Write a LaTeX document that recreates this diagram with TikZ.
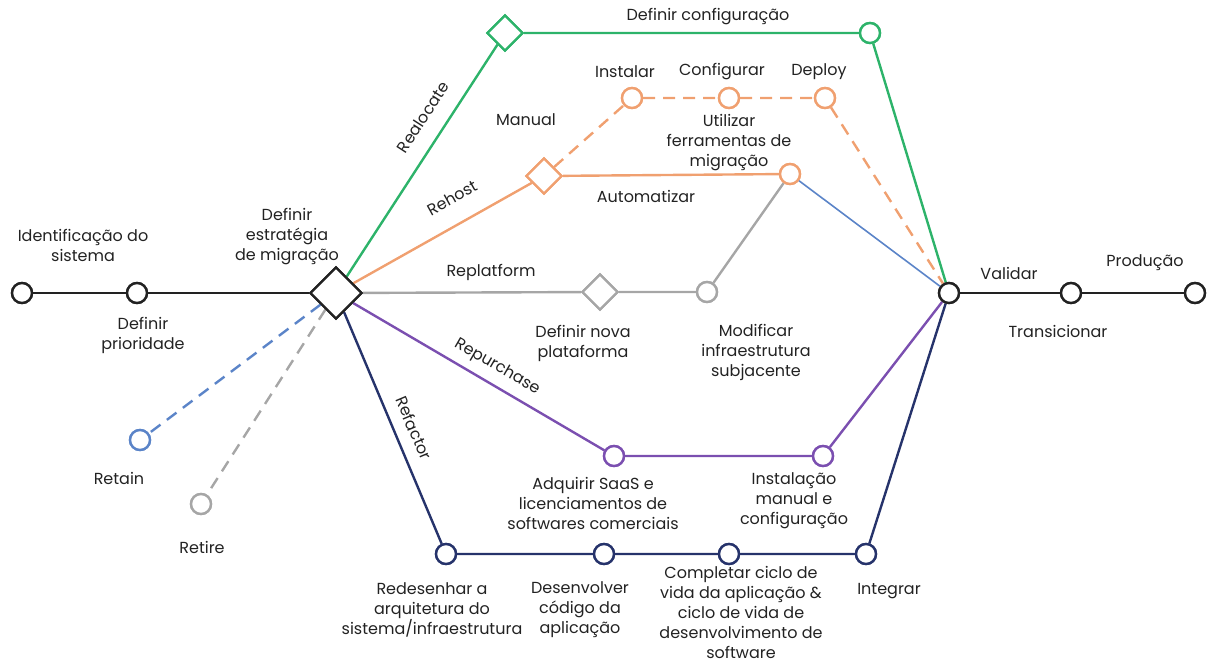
\documentclass[tikz,border=0pt]{standalone}
\usepackage{fontspec}
\setmainfont{Poppins}
\usetikzlibrary{shapes.geometric}

\definecolor{mgreen}{HTML}{2DB36A}
\definecolor{morange}{HTML}{F0A070}
\definecolor{mgray}{HTML}{A6A6A6}
\definecolor{mpurple}{HTML}{7B4FB0}
\definecolor{mnavy}{HTML}{26336B}
\definecolor{mblue}{HTML}{5B84C8}
\definecolor{mblack}{HTML}{222222}

\tikzset{
  stop/.style={circle, draw=#1, fill=white, line width=1.8pt, minimum size=15pt, inner sep=0pt},
  stop/.default=mblack,
  fork/.style={diamond, draw=#1, fill=white, line width=1.8pt, minimum size=27pt, inner sep=0pt},
  fork/.default=mblack,
  track/.style={line width=1.8pt, draw=#1},
  lbl/.style={font=\fontsize{12}{15}\selectfont, align=center, text=mblack, inner sep=1pt}
}

\begin{document}
\begin{tikzpicture}[x=0.75pt,y=-0.75pt]
    \useasboundingbox (0,0) rectangle (1209,663);

    % main line
    \node[stop] (ident) at (22,293) {};
    \node[stop] (prio) at (137,293) {};
    \node[fork, minimum size=39pt] (strat) at (336,293) {};
    \node[stop] (valid) at (949,293) {};
    \node[stop] (trans) at (1071,293) {};
    \node[stop] (prod) at (1195,293) {};

    % realocate
    \node[fork=mgreen] (relocd) at (505,33) {};
    \node[stop=mgreen] (relocc) at (870,33) {};

    % rehost
    \node[fork=morange] (rehostd) at (544,176) {};
    \node[stop=morange] (inst) at (632,98) {};
    \node[stop=morange] (conf) at (729,98) {};
    \node[stop=morange] (depl) at (825,98) {};
    \node[stop=morange] (tool) at (790,174) {};

    % replatform
    \node[fork=mgray] (platd) at (600,292) {};
    \node[stop=mgray] (infra) at (707,292) {};

    % repurchase
    \node[stop=mpurple] (saas) at (614,456) {};
    \node[stop=mpurple] (instman) at (823,456) {};

    % refactor
    \node[stop=mnavy] (redes) at (446,554) {};
    \node[stop=mnavy] (dev) at (604,554) {};
    \node[stop=mnavy] (ciclo) at (729,554) {};
    \node[stop=mnavy] (integ) at (866,554) {};

    % retain / retire
    \node[stop=mblue] (retain) at (140,440) {};
    \node[stop=mgray] (retire) at (201,504) {};

    % tracks
    \draw[track=mblack] (ident) -- (prio) -- (strat);
    \draw[track=mblack] (valid) -- (trans) -- (prod);
    \draw[track=mgreen] (strat) -- (relocd) -- (relocc) -- (valid);
    \draw[track=morange] (strat) -- (rehostd) -- (tool);
    \draw[track=morange, dash pattern=on 9pt off 6pt] (rehostd) -- (inst) -- (conf) -- (depl) -- (valid);
    \draw[track=mblue, line width=1.2pt] (tool) -- (valid);
    \draw[track=mgray] (strat) -- (platd) -- (infra) -- (tool);
    \draw[track=mpurple] (strat) -- (saas) -- (instman) -- (valid);
    \draw[track=mnavy] (strat) -- (redes) -- (dev) -- (ciclo) -- (integ) -- (valid);
    \draw[track=mblue, dash pattern=on 9pt off 6pt] (strat) -- (retain);
    \draw[track=mgray, dash pattern=on 9pt off 6pt] (strat) -- (retire);

    % redraw nodes on top
    \foreach \n/\c in {ident/mblack,prio/mblack,valid/mblack,trans/mblack,prod/mblack,
        relocc/mgreen,inst/morange,conf/morange,depl/morange,tool/morange,infra/mgray,
        saas/mpurple,instman/mpurple,redes/mnavy,dev/mnavy,ciclo/mnavy,integ/mnavy,
        retain/mblue,retire/mgray}
      \node[stop=\c] at (\n) {};
    \node[fork, minimum size=39pt] at (strat) {};
    \node[fork=mgreen] at (relocd) {};
    \node[fork=morange] at (rehostd) {};
    \node[fork=mgray] at (platd) {};

    % labels
    \node[lbl] (l-ident) at (83,245) {Identificação do\\sistema};
    \node[lbl] (l-prio) at (143,335) {Definir\\prioridade};
    \node[lbl] (l-strat) at (287,237) {Definir\\estratégia\\de migração};
    \node[lbl, rotate=57] (l-reloc) at (423,117) {Realocate};
    \node[lbl, rotate=29] (l-rehost) at (452,198) {Rehost};
    \node[lbl] (l-replat) at (491,272) {Replatform};
    \node[lbl, rotate=-30] (l-repur) at (497,367) {Repurchase};
    \node[lbl, rotate=-67] (l-refac) at (414,428) {Refactor};
    \node[lbl] (l-relocc) at (708,17) {Definir configuração};
    \node[lbl] (l-manual) at (526,120) {Manual};
    \node[lbl] (l-inst) at (625,72) {Instalar};
    \node[lbl] (l-conf) at (722,72) {Configurar};
    \node[lbl] (l-depl) at (819,72) {Deploy};
    \node[lbl] (l-tool) at (729,143) {Utilizar\\ferramentas de\\migração};
    \node[lbl] (l-auto) at (646,196) {Automatizar};
    \node[lbl] (l-platd) at (583,343) {Definir nova\\plataforma};
    \node[lbl] (l-infra) at (756,352) {Modificar\\infraestrutura\\subjacente};
    \node[lbl] (l-saas) at (593,503) {Adquirir SaaS e\\licenciamentos de\\softwares comerciais};
    \node[lbl] (l-instman) at (794,501) {Instalação\\manual e\\configuração};
    \node[lbl] (l-redes) at (432,610) {Redesenhar a\\arquitetura do\\sistema/infraestrutura};
    \node[lbl] (l-dev) at (580,610) {Desenvolver\\código da\\aplicação};
    \node[lbl] (l-ciclo) at (741,612) {Completar ciclo de\\vida da aplicação \&\\ciclo de vida de\\desenvolvimento de\\software};
    \node[lbl] (l-integ) at (889,591) {Integrar};
    \node[lbl] (l-valid) at (1009,273) {Validar};
    \node[lbl] (l-prod) at (1145,263) {Produção};
    \node[lbl] (l-trans) at (1058,331) {Transicionar};
    \node[lbl] (l-retain) at (119,478) {Retain};
    \node[lbl] (l-retire) at (202,547) {Retire};

\end{tikzpicture}
\end{document}
